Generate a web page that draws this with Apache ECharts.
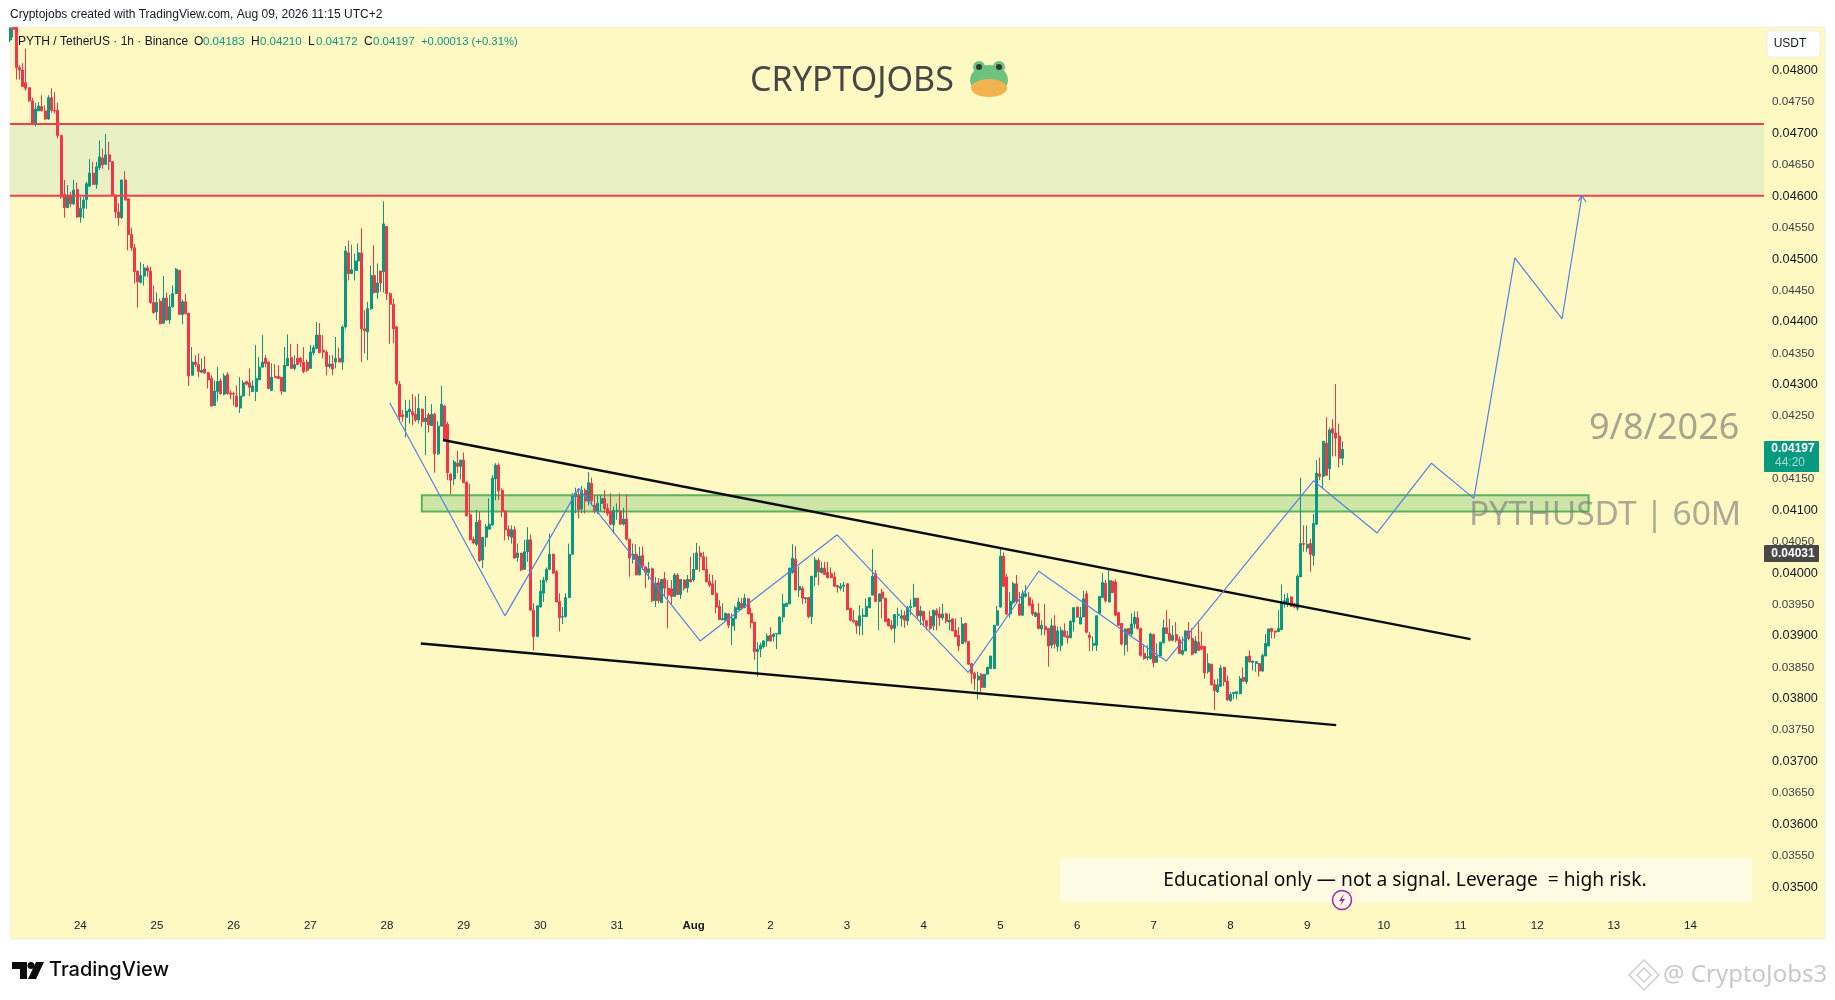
<!DOCTYPE html>
<html><head><meta charset="utf-8"><title>PYTHUSDT</title>
<style>html,body{margin:0;padding:0;background:#fff}#c{width:1835px;height:1000px}</style>
<script src="https://cdn.jsdelivr.net/npm/echarts@6/dist/echarts.min.js"></script></head>
<body><div id="c"></div><script>
// Prices are in units of 0.00001 USDT; each row is [open, close, low, high], one row per hour.
const PRICE_UNIT = 1e-5;
const candlesJul23To25 = [
[4849,4868,4845,4869],[4869,4866,4853,4869],[4869,4805,4786,4869],[4805,4801,4786,4809],[4801,4775,4774,4812],[4781,4772,4768,4835],[4773,4752,4750,4773],[4752,4716,4715,4757],[4716,4739,4711,4749],[4736,4744,4736,4750],
[4743,4736,4736,4761],[4736,4723,4722,4745],[4723,4757,4722,4761],[4757,4737,4733,4772],[4737,4736,4732,4766],[4737,4697,4692,4749],[4697,4599,4596,4697],[4603,4582,4566,4626],[4582,4602,4581,4618],[4602,4588,4583,4607],
[4588,4610,4586,4626],[4611,4567,4566,4622],[4567,4581,4558,4599],[4581,4594,4565,4599],[4595,4620,4580,4623],[4616,4637,4616,4659],[4637,4619,4618,4655],[4619,4647,4612,4655],[4646,4663,4642,4689],[4661,4650,4644,4676],
[4651,4666,4650,4699],[4666,4655,4642,4687],[4655,4602,4602,4655],[4602,4575,4565,4603],[4575,4566,4553,4589],[4566,4626,4564,4626],[4626,4594,4594,4640],[4596,4539,4514,4596],[4539,4518,4513,4550],[4518,4480,4461,4524],
[4481,4464,4423,4481],[4463,4474,4461,4495],[4473,4486,4458,4492],[4486,4481,4472,4490],[4481,4431,4429,4488],[4431,4415,4413,4458],[4416,4431,4403,4447],[4433,4397,4396,4437],[4398,4438,4397,4473],[4438,4403,4402,4447],
[4403,4424,4397,4443],[4424,4445,4423,4458],[4445,4484,4444,4486],[4482,4412,4411,4482],[4412,4432,4396,4436],[4432,4413,4412,4445]];
const candlesJul25To28 = [
[4414,4314,4298,4414],[4315,4336,4315,4360],[4336,4332,4328,4347],[4332,4321,4312,4350],[4320,4323,4318,4342],[4325,4319,4317,4345],[4319,4308,4294,4320],[4310,4266,4265,4315],[4267,4290,4266,4307],[4289,4305,4274,4328],
[4306,4286,4284,4310],[4285,4314,4283,4318],[4316,4286,4284,4320],[4287,4285,4277,4291],[4286,4285,4267,4289],[4282,4265,4264,4299],[4263,4282,4255,4312],[4282,4303,4281,4307],[4305,4301,4299,4306],[4303,4296,4282,4326],
[4289,4298,4289,4307],[4289,4310,4274,4363],[4308,4328,4307,4344],[4328,4336,4328,4379],[4342,4334,4328,4347],[4336,4294,4293,4337],[4291,4312,4290,4334],[4313,4311,4311,4333],[4313,4310,4310,4331],[4312,4290,4284,4312],
[4289,4331,4289,4360],[4330,4342,4330,4380],[4343,4326,4326,4365],[4326,4332,4323,4347],[4342,4332,4331,4365],[4342,4336,4328,4344],[4336,4321,4318,4360],[4336,4323,4320,4340],[4326,4352,4326,4363],[4351,4359,4347,4363],
[4358,4379,4356,4400],[4379,4351,4350,4398],[4355,4352,4342,4379],[4352,4329,4315,4355],[4329,4333,4326,4347],[4333,4325,4315,4347],[4336,4342,4326,4376],[4342,4336,4336,4359],[4336,4392,4324,4395],[4392,4513,4389,4521],
[4510,4477,4466,4529],[4477,4483,4476,4523],[4482,4497,4466,4509],[4497,4510,4481,4525],[4510,4389,4336,4549],[4389,4386,4350,4419],[4384,4421,4339,4432],[4421,4474,4419,4490],[4474,4447,4445,4522],[4447,4462,4437,4493],
[4481,4462,4448,4481],[4480,4556,4447,4592],[4552,4445,4435,4552],[4445,4428,4365,4447],[4428,4389,4366,4437],[4392,4302,4299,4394],[4301,4249,4241,4306]];
const candlesJul28To31 = [
[4252,4249,4241,4260],[4248,4258,4216,4276],[4257,4261,4238,4276],[4257,4252,4236,4285],[4253,4244,4241,4281],[4244,4262,4238,4286],[4261,4241,4233,4262],[4241,4247,4188,4282],[4252,4236,4224,4255],[4235,4253,4235,4269],
[4253,4190,4160,4255],[4190,4234,4188,4242],[4234,4269,4234,4298],[4266,4212,4212,4268],[4237,4160,4148,4241],[4158,4148,4126,4158],[4150,4177,4140,4180],[4175,4170,4159,4195],[4170,4180,4149,4180],[4180,4144,4144,4192],
[4145,4091,4091,4145],[4093,4053,4052,4142],[4054,4048,4046,4058],[4046,4081,4043,4101],[4084,4020,4018,4098],[4021,4057,4008,4057],[4057,4074,4042,4078],[4070,4078,4070,4119],[4077,4151,4075,4156],[4150,4172,4116,4175],
[4172,4131,4116,4175],[4132,4098,4089,4135],[4099,4069,4052,4099],[4070,4059,4053,4076],[4057,4069,4047,4076],[4069,4024,4023,4075],[4025,4032,4018,4047],[4032,4005,4003,4032],[4006,4034,4005,4053],[4034,4053,4018,4073],
[4053,3941,3941,4061],[3941,3899,3877,3952],[3899,3948,3899,3948],[3946,3971,3946,3989],[3968,3989,3954,3994],[3989,4006,3985,4009],[4006,4030,4005,4063],[4030,4000,3999,4031],[4002,3954,3954,4005],[3955,3929,3907,3968],
[3930,3931,3919,3946],[3931,3961,3929,3968],[3961,4030,3961,4047],[4030,4122,4030,4127],[4122,4127,4095,4136],[4124,4101,4087,4135],[4102,4132,4095,4139],[4132,4115,4095,4135],[4114,4144,4108,4161],[4143,4115,4108,4152],
[4108,4099,4095,4124],[4098,4111,4094,4124],[4111,4119,4098,4124],[4119,4103,4096,4132],[4103,4095,4091,4111],[4098,4078,4076,4127],[4077,4100,4063,4106],[4099,4100,4085,4111],[4099,4078,4077,4127],[4078,4086,4076,4104],
[4086,4054,4052,4125],[4054,4024,3994,4054],[4022,4030,4015,4047],[4030,3997,3997,4046],[3997,4027,3997,4042],[4028,4011,4005,4042],[4010,4001,3976,4010],[4001,4007,3989,4018],[4007,3956,3954,4009],[3956,3984,3946,3994],
[3985,3956,3952,3992],[3953,3990,3953,3990],[3991,3976,3962,4002],[3976,3965,3912,3989],[3975,3963,3949,3989],[3963,3997,3962,4000],[3997,3966,3965,4000],[3966,3990,3959,3990],[3989,3976,3972,3990],[3977,3990,3969,3997],
[3990,3986,3986,4026]];
const candlesAug1To4 = [
[3989,4006,3986,4032],[4006,4032,4005,4048],[4032,4026,4002,4043],[4026,4005,4005,4034],[4006,3986,3986,4026],[3987,3981,3978,3999],[3983,3966,3965,3997],[3968,3946,3936,3989],[3947,3926,3926,3957],
[3926,3928,3925,3952],[3925,3936,3925,3937],[3935,3917,3912,3936],[3916,3928,3885,3936],[3928,3945,3908,3948],[3942,3954,3941,3961],[3952,3944,3941,3960],[3945,3960,3945,3967],[3959,3935,3935,3960],[3936,3921,3912,3945],
[3922,3875,3862,3922],[3875,3879,3835,3890],[3879,3885,3866,3889],[3883,3892,3880,3893],[3892,3900,3883,3904],[3901,3892,3891,3914],[3899,3903,3891,3904],[3903,3904,3879,3904],[3903,3930,3903,3931],[3930,3951,3922,3967],
[3947,3952,3947,3952],[3951,4008,3951,4008],[4001,4024,3999,4046],[4022,3973,3973,4043],[3973,3979,3962,4010],[3976,3960,3951,3979],[3959,3961,3952,3961],[3961,3931,3928,3962],[3931,3995,3919,3995],[3994,4021,3979,4026],
[4020,4002,3981,4024],[4001,4008,3999,4018],[4008,3998,3997,4018],[4001,3993,3991,4018],[3999,3993,3992,4009],[3994,3979,3979,4002],[3980,3978,3969,3981],[3976,3979,3972,3984],[3979,3981,3970,3986],[3983,3942,3941,3983],
[3944,3925,3923,3945],[3925,3923,3920,3941],[3924,3916,3903,3924],[3916,3932,3901,3949],[3931,3933,3901,3944],[3931,3947,3930,3960],[3945,3961,3944,3962],[3965,3995,3965,4038],[3999,3955,3955,4005],[3955,3967,3909,3967],
[3970,3960,3928,3975],[3960,3923,3923,3960],[3927,3916,3915,3928],[3917,3912,3909,3925],[3912,3934,3889,3934],[3933,3934,3916,3945],[3928,3932,3915,3942],[3933,3925,3913,3940],[3924,3945,3917,3948],[3945,3947,3933,3958],
[3947,3960,3945,3983],[3960,3932,3928,3960],[3932,3940,3917,3948],[3939,3925,3915,3940],[3924,3916,3909,3925],[3931,3912,3909,3940],[3916,3941,3909,3942],[3940,3933,3909,3944],[3935,3929,3916,3946],[3929,3935,3925,3951],
[3935,3923,3920,3937],[3922,3925,3909,3936],[3927,3908,3908,3928],[3909,3899,3898,3928],[3901,3884,3876,3914],[3888,3919,3887,3930],[3920,3891,3889,3920],[3891,3855,3854,3891],[3856,3840,3824,3856],[3840,3832,3814,3843],
[3830,3836,3799,3843],[3839,3818,3811,3841],[3818,3839,3818,3839],[3839,3850,3839,3851],[3848,3868,3848,3868],[3848,3917,3848,3917],[3917,3940,3917,3948]];
const candlesAug5To9 = [
[3946,4027,3945,4039],[4027,3979,3979,4033],[3994,3935,3933,3999],[3935,3955,3929,3970],[3953,3983,3950,3986],[3983,3955,3952,3997],[3951,3933,3932,3970],[3933,3967,3932,3973],[3963,3967,3961,3981],[3961,3949,3947,3970],
[3951,3935,3932,3958],[3931,3937,3930,3939],[3936,3912,3910,3952],[3911,3917,3901,3925],[3915,3910,3901,3951],[3912,3884,3851,3912],[3885,3916,3880,3928],[3916,3887,3880,3933],[3883,3908,3875,3915],[3885,3909,3876,3915],
[3908,3899,3898,3920],[3900,3897,3888,3908],[3897,3923,3896,3925],[3922,3945,3907,3946],[3946,3930,3929,3946],[3919,3930,3919,3946],[3930,3959,3930,3972],[3967,3906,3904,3972],[3901,3897,3876,3906],[3885,3888,3876,3899],
[3885,3932,3876,3933],[3936,3963,3936,3963],[3961,3985,3961,4000],[3984,3956,3953,3989],[3954,3988,3954,4005],[3987,3969,3968,3989],[3986,3933,3933,3990],[3937,3917,3916,3937],[3920,3887,3885,3920],[3886,3911,3869,3912],
[3912,3903,3875,3912],[3903,3919,3900,3936],[3919,3930,3912,3939],[3929,3912,3910,3939],[3912,3869,3867,3913],[3872,3864,3862,3885],[3865,3867,3861,3885],[3864,3903,3862,3905],[3902,3857,3850,3904],[3858,3868,3857,3888],
[3868,3890,3866,3890],[3889,3913,3888,3926],[3913,3904,3903,3941],[3904,3893,3891,3927],[3893,3901,3891,3917],[3902,3893,3890,3922],[3894,3872,3871,3899],[3871,3877,3869,3899],[3876,3908,3876,3909],[3908,3896,3893,3922],
[3896,3871,3869,3912],[3873,3892,3872,3900],[3890,3877,3876,3922],[3884,3879,3877,3907],[3883,3841,3832,3883],[3843,3856,3840,3872],[3855,3822,3822,3855],[3823,3813,3782,3831],[3811,3822,3809,3832],[3820,3849,3819,3854],
[3850,3827,3820,3851],[3828,3798,3797,3837],[3797,3807,3795,3811],[3808,3810,3799,3811],[3808,3811,3799,3811],[3808,3832,3807,3836],[3834,3828,3827,3850],[3827,3867,3823,3868],[3868,3859,3857,3877],[3858,3860,3845,3861],
[3856,3859,3843,3860],[3856,3844,3835,3857],[3844,3869,3843,3872],[3868,3888,3868,3903],[3884,3911,3884,3912],[3912,3907,3896,3912],[3908,3906,3896,3908],[3907,3912,3906,3941],[3910,3954,3909,3982],[3951,3956,3945,3967],
[3951,3960,3946,3968],[3962,3947,3946,3963],[3951,3946,3944,3953],[3944,3995,3940,3998],[3994,4047,3994,4152],[4047,4046,4034,4076],[4040,4046,4034,4076],[4047,4030,4002,4055],[4028,4079,4012,4094],[4078,4159,4077,4180],
[4158,4154,4148,4184],[4154,4210,4135,4210],[4207,4156,4155,4248],[4166,4228,4148,4232],[4230,4223,4186,4245],[4223,4215,4186,4301],[4218,4183,4168,4238],[4183,4197,4172,4210]];

const priceTicks = [0.035,0.0355,0.036,0.0365,0.037,0.0375,0.038,0.0385,0.039,0.0395,0.04,0.0405,0.041,0.0415,0.042,0.0425,0.043,0.0435,0.044,0.0445,0.045,0.0455,0.046,0.0465,0.047,0.0475,0.048];
const dayLabels = ['24','25','26','27','28','29','30','31','Aug','2','3','4','5','6','7','8','9','10','11','12','13','14'];
const firstDayHour = 22, hoursPerDay = 24, hourSlots = 550;

// Drawing tools: [hour index, price]
const resistanceZone = [0.04715, 0.04601];
const supportZone = [0.04124, 0.04098];
const supportZoneHours = [128.9, 494.1];
const upperTrend = [[135.5,0.04212],[457.1,0.03895]];
const lowerTrend = [[128.6,0.03888],[415.1,0.03758]];
const projectionPath = [[118.9,0.04271],[154.9,0.03932],[178,0.04135],[216,0.03892],[258.9,0.04061],[299.9,0.03842],[322,0.04003],[361.9,0.0386],[408,0.04147],[427.9,0.04064],[444.9,0.04175],[458.2,0.04119],[471,0.04502],[485.8,0.04405],[492,0.04601]];
const arrowHead = [[490.8,0.04592],[492,0.04601],[493.3,0.04591]];

const categories = new Array(hourSlots).fill('');
dayLabels.forEach((d,k)=>{categories[firstDayHour+k*hoursPerDay]=d;});
const candleRows = [].concat(candlesJul23To25,candlesJul25To28,candlesJul28To31,candlesAug1To4,candlesAug5To9)
  .map(r=>r.map(v=>+(v*PRICE_UNIT).toFixed(5)));

const GREEN='#089981', RED='#f23645', TVFONT='"Liberation Sans","Noto Sans",sans-serif';
const txt=(x,y,text,font,fill,align,z)=>({type:'text',x,y,z:z||100,silent:true,style:{text,font,fill,align:align||'left',verticalAlign:'middle'}});
const g=[
 {type:'rect',z:-10,silent:true,shape:{x:10,y:27,width:1815,height:912},style:{fill:'#fef8c3',stroke:'#f0f0ee',lineWidth:1}},
 txt(10,15,'Cryptojobs created with TradingView.com, Aug 09, 2026 11:15 UTC+2','12px '+TVFONT,'#131722'),
 txt(18,42,'PYTH / TetherUS · 1h · Binance','12px '+TVFONT,'#131722'),
 txt(194,42,'O','12px '+TVFONT,'#131722'),txt(203,42,'0.04183','11.5px '+TVFONT,GREEN),
 txt(251,42,'H','12px '+TVFONT,'#131722'),txt(260,42,'0.04210','11.5px '+TVFONT,GREEN),
 txt(308,42,'L','12px '+TVFONT,'#131722'),txt(316,42,'0.04172','11.5px '+TVFONT,GREEN),
 txt(364,42,'C','12px '+TVFONT,'#131722'),txt(373,42,'0.04197','11.5px '+TVFONT,GREEN),
 txt(421,42,'+0.00013 (+0.31%)','11.3px '+TVFONT,GREEN),
 txt(750,81,'CRYPTOJOBS','34px "Noto Sans",sans-serif','#474747'),
 // frog
 {type:'ellipse',z:100,shape:{cx:989,cy:80,rx:19,ry:15},style:{fill:'#6cc37e'}},
 {type:'ellipse',z:101,shape:{cx:989,cy:88,rx:18,ry:9},style:{fill:'#f2b24d'}},
 {type:'circle',z:101,shape:{cx:979,cy:67,r:6},style:{fill:'#6cc37e'}},
 {type:'circle',z:101,shape:{cx:999,cy:67,r:6},style:{fill:'#6cc37e'}},
 {type:'circle',z:102,shape:{cx:979,cy:67,r:3},style:{fill:'#2f3a33'}},
 {type:'circle',z:102,shape:{cx:999,cy:67,r:3},style:{fill:'#2f3a33'}},
 txt(1589,429,'9/8/2026','36px "Noto Sans",sans-serif','#a6a58e'),
 txt(1469,515,'PYTHUSDT | 60M','33.5px "Noto Sans",sans-serif','rgba(120,122,120,0.62)'),
 {type:'rect',z:90,shape:{x:1060,y:858,width:692,height:44},style:{fill:'#fffbe2'}},
 txt(1405,881,'Educational only — not a signal. Leverage  = high risk.','19.2px "Noto Sans",sans-serif','#0b0b0b','center'),
 {type:'circle',z:100,shape:{cx:1342,cy:900,r:9.5},style:{fill:'#fef8e0',stroke:'#9c27b0',lineWidth:1.5}},
 {type:'polygon',z:101,shape:{points:[[1344,894],[1339,901],[1342,901],[1340,906],[1345,899],[1342,899]]},style:{fill:'#9c27b0'}},
 {type:'rect',z:100,shape:{x:1767,y:31,width:53,height:26,r:3},style:{fill:'#fff',stroke:'#eeeeee'}},
 txt(1790,44,'USDT','12px '+TVFONT,'#131722','center'),
 {type:'rect',z:100,shape:{x:1764,y:441,width:55,height:31,r:1},style:{fill:GREEN}},
 txt(1793,449,'0.04197','bold 12px '+TVFONT,'#fff','center',101),
 txt(1790,463,'44:20','12px '+TVFONT,'#a9dccf','center',101),
 {type:'rect',z:100,shape:{x:1764,y:545,width:55,height:17,r:1},style:{fill:'#484848'}},
 txt(1793,553.5,'0.04031','bold 12px '+TVFONT,'#fff','center',101),
 // TradingView logo
 {type:'polygon',z:100,shape:{points:[[12,962],[27,962],[27,979],[20,979],[20,969],[12,969]]},style:{fill:'#0b0b0b'}},
 {type:'circle',z:100,shape:{cx:31,cy:965.5,r:3.5},style:{fill:'#0b0b0b'}},
 {type:'polygon',z:100,shape:{points:[[36,962],[44,962],[36,979],[28,979]]},style:{fill:'#0b0b0b'}},
 txt(49,970,'TradingView','500 20px "Inter",sans-serif','#0b0b0b'),
 txt(1663,975,'@ CryptoJobs3','24px "Noto Sans",sans-serif','#c9c9c9'),
 {type:'polygon',z:100,shape:{points:[[1644,960],[1659,975],[1644,990],[1629,975]]},style:{fill:'none',stroke:'#cfcfcf',lineWidth:1.5}},
 {type:'polygon',z:100,shape:{points:[[1644,968],[1651,975],[1644,982],[1637,975]]},style:{fill:'none',stroke:'#cfcfcf',lineWidth:1.5}}
];

const chart=echarts.init(document.getElementById('c'),null,{renderer:'canvas'});
chart.setOption({
 animation:false,
 graphic:{elements:g},
 grid:{left:10,top:27,width:1754,height:886,containLabel:false},
 xAxis:[
  {type:'category',data:categories,boundaryGap:false,axisLine:{show:false},axisTick:{show:false},splitLine:{show:false},
   axisLabel:{interval:0,margin:7,hideOverlap:false,color:'#131722',fontFamily:TVFONT,fontSize:11.5,
    formatter:v=>v==='Aug'?'{b|Aug}':v,rich:{b:{fontWeight:'bold',fontFamily:TVFONT,fontSize:11.5,color:'#131722'}}}},
  {type:'value',min:0,max:hourSlots-1,show:false}
 ],
 yAxis:{type:'value',position:'right',min:0.034588,max:0.048696,axisLine:{show:false},axisTick:{show:false},splitLine:{show:false},
  axisLabel:{customValues:priceTicks,margin:8,color:'#3a3e49',fontFamily:TVFONT,fontSize:11.7,
   formatter:v=>{const s=v.toFixed(5);return Math.round(v*1e5)%100===0?'{m|'+s+'}':s;},
   rich:{m:{color:'#131722',fontFamily:TVFONT,fontSize:12.7}}}},
 series:[
  {type:'line',name:'resistance',xAxisIndex:1,z:1,silent:true,symbol:'none',data:[],
   markArea:{silent:true,itemStyle:{color:'#e8f0c4'},data:[[{xAxis:0,yAxis:resistanceZone[0]},{xAxis:hourSlots-1,yAxis:resistanceZone[1]}]]}},
  {type:'line',name:'support',xAxisIndex:1,z:1,silent:true,symbol:'none',data:[],
   markArea:{silent:true,itemStyle:{color:'#cde5a6',borderColor:'#5cb35c',borderWidth:2},data:[[{xAxis:supportZoneHours[0],yAxis:supportZone[0]},{xAxis:supportZoneHours[1],yAxis:supportZone[1]}]]}},
  {type:'candlestick',name:'PYTHUSDT',xAxisIndex:0,z:3,barWidth:2.5,clip:true,data:candleRows,silent:true,
   itemStyle:{color:GREEN,color0:RED,borderColor:GREEN,borderColor0:RED,borderColorDoji:RED,borderWidth:1}},
  ...resistanceZone.map(y=>({type:'line',xAxisIndex:1,z:4,silent:true,symbol:'none',data:[[0,y],[hourSlots-1,y]],lineStyle:{color:'#f2404b',width:2}})),
  {type:'line',xAxisIndex:1,z:5,silent:true,symbol:'none',data:upperTrend,lineStyle:{color:'#0b0b0b',width:2.4}},
  {type:'line',xAxisIndex:1,z:5,silent:true,symbol:'none',data:lowerTrend,lineStyle:{color:'#0b0b0b',width:2.4}},
  {type:'line',xAxisIndex:1,z:6,silent:true,symbol:'none',data:projectionPath,lineStyle:{color:'#5580ea',width:1.2}},
  {type:'line',xAxisIndex:1,z:6,silent:true,symbol:'none',data:arrowHead,lineStyle:{color:'#5580ea',width:1.2}}
 ]
});
</script></body></html>
